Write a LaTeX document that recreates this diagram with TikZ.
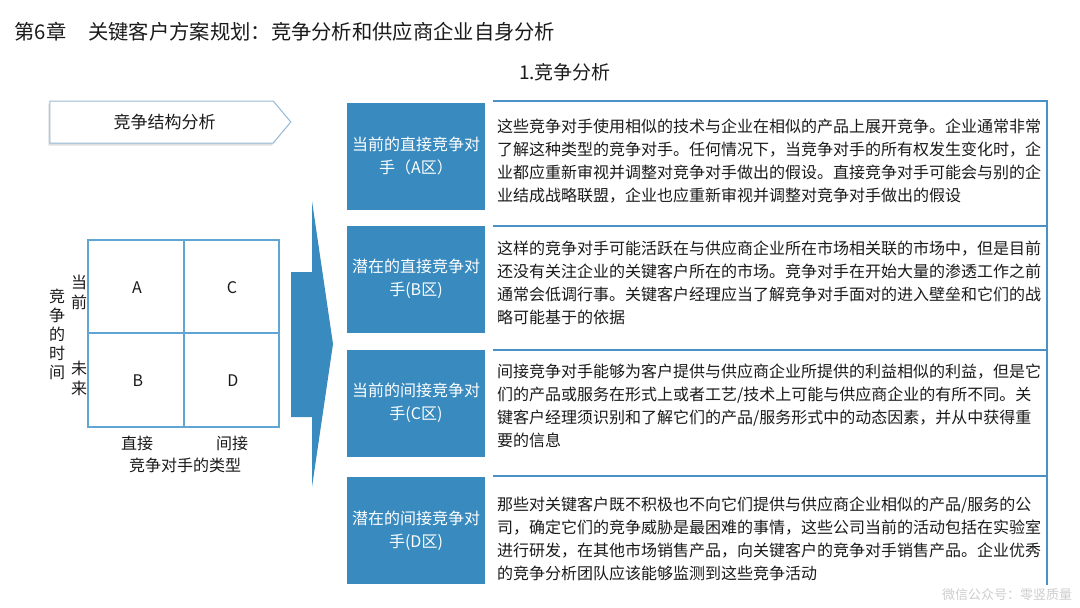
\documentclass[tikz,border=0pt]{standalone}
\usepackage{fontspec}
\setmainfont{Noto Sans CJK SC}
\usepackage{xcolor}
\usepackage{tikz}
\usetikzlibrary{positioning,shapes.symbols,shadows}
\definecolor{kablue}{RGB}{56,138,191}
\definecolor{kaline}{RGB}{74,145,200}
\definecolor{kagrid}{RGB}{96,165,212}
\definecolor{kaedge}{RGB}{150,186,214}
\definecolor{katext}{RGB}{26,26,26}
\definecolor{kamark}{RGB}{205,205,205}
\tikzset{
  zone/.style={fill=kablue, text=white, align=center, minimum width=138pt, minimum height=107pt, inner sep=0pt, font=\fontsize{16}{23}\selectfont},
  desc/.style={anchor=north west, align=left, inner sep=0pt, text=katext, font=\fontsize{16}{23}\selectfont},
  zoneframe/.style={draw=kaline, line width=1.5pt},
  cell/.style={text=katext, align=center, inner sep=0pt, font=\fontsize{16}{20}\selectfont},
  banner/.style={shape=signal, signal to=east, signal pointer angle=100, draw=kaedge, line width=1pt, fill=white, minimum width=241pt, minimum height=42pt, inner sep=0pt, text=katext, font=\fontsize{17}{20}\selectfont, drop shadow={shadow xshift=-1.5pt, shadow yshift=-2.5pt, opacity=0.25, fill=gray}},
}
\begin{document}
\begin{tikzpicture}[x=1pt,y=-1pt]
  \useasboundingbox (0,0) rectangle (1080,608);
  % headings
  \node[anchor=west, text=katext, font=\fontsize{20.3}{24}\selectfont] (title) at (11,32) {第6章\hspace{22pt}关键客户方案规划：竞争分析和供应商企业自身分析};
  \node[text=katext, font=\fontsize{19}{22}\selectfont] (sub) at (565,72) {1.竞争分析};
  \node[banner] (struct) at (161.5,122) {\hspace{6pt}竞争结构分析};

  % competition matrix
  \draw[kagrid, line width=1.2pt] (88,240) rectangle (279,427);
  \draw[kagrid, line width=1.2pt] (184,240) -- (184,427);
  \draw[kagrid, line width=1.2pt] (88,333) -- (279,333);
  \node[cell] (qa) at (137,288) {A};
  \node[cell] (qc) at (232,288) {C};
  \node[cell] (qb) at (138,381) {B};
  \node[cell] (qd) at (233,381) {D};
  \node[cell] (now) at (79,292) {当\\前};
  \node[cell] (fut) at (79,378) {未\\来};
  \node[cell, font=\fontsize{16}{19}\selectfont] (time) at (57,334) {竞\\争\\的\\时\\间};
  \node[cell] (dir) at (137,443) {直接};
  \node[cell] (ind) at (232,443) {间接};
  \node[cell] (type) at (185,465) {竞争对手的类型};

  % big arrow
  \fill[kablue] (291,272) -- (312,272) -- (312,201) -- (333,344) -- (312,487)
    -- (312,417) -- (291,417) -- cycle;

  % zones
  \node[zone] (za) at (416,156) {当前的直接竞争对\\手（A区）};
  \node[zone] (zb) at (416,279) {潜在的直接竞争对\\手(B区)};
  \node[zone] (zc) at (416,403) {当前的间接竞争对\\手(C区)};
  \node[zone] (zd) at (416,530.5) {潜在的间接竞争对\\手(D区)};

  \draw[zoneframe] (493,101) -- (1047,101) -- (1047,226);
  \draw[zoneframe] (493,226) -- (1047,226) -- (1047,350);
  \draw[zoneframe] (493,350) -- (1047,350) -- (1047,476);
  \draw[zoneframe] (493,476) -- (1047,476) -- (1047,585);

  \node[desc] (da) at (497,119) {这些竞争对手使用相似的技术与企业在相似的产品上展开竞争。企业通常非常\\
    了解这种类型的竞争对手。任何情况下，当竞争对手的所有权发生变化时，企\\
    业都应重新审视并调整对竞争对手做出的假设。直接竞争对手可能会与别的企\\
    业结成战略联盟，企业也应重新审视并调整对竞争对手做出的假设};
  \node[desc] (db) at (497,241) {这样的竞争对手可能活跃在与供应商企业所在市场相关联的市场中，但是目前\\
    还没有关注企业的关键客户所在的市场。竞争对手在开始大量的渗透工作之前\\
    通常会低调行事。关键客户经理应当了解竞争对手面对的进入壁垒和它们的战\\
    略可能基于的依据};
  \node[desc] (dc) at (497,364) {间接竞争对手能够为客户提供与供应商企业所提供的利益相似的利益，但是它\\
    们的产品或服务在形式上或者工艺/技术上可能与供应商企业的有所不同。关\\
    键客户经理须识别和了解它们的产品/服务形式中的动态因素，并从中获得重\\
    要的信息};
  \node[desc] (dd) at (497,497) {那些对关键客户既不积极也不向它们提供与供应商企业相似的产品/服务的公\\
    司，确定它们的竞争威胁是最困难的事情，这些公司当前的活动包括在实验室\\
    进行研发，在其他市场销售产品，向关键客户的竞争对手销售产品。企业优秀\\
    的竞争分析团队应该能够监测到这些竞争活动};

  \node[text=kamark, font=\fontsize{13}{15}\selectfont] (mark) at (1007,595) {微信公众号：零竖质量};
\end{tikzpicture}
\end{document}
